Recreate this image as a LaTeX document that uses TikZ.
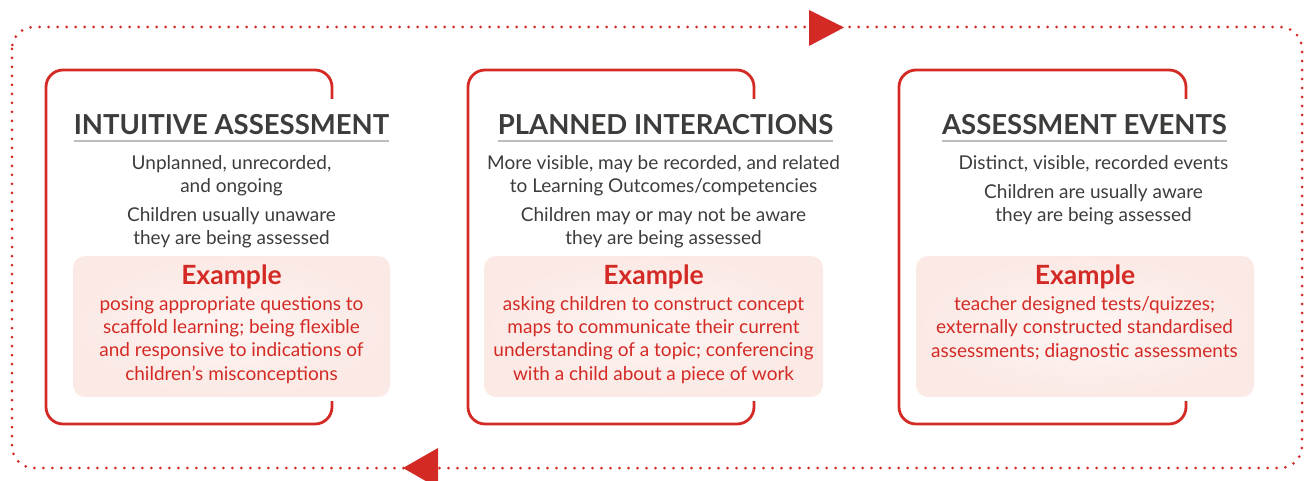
\documentclass[tikz,border=0pt]{standalone}
\usepackage{fontspec}
\setmainfont{Lato}
\definecolor{myred}{HTML}{D42A25}
\definecolor{txtgray}{HTML}{3C3C3A}
\definecolor{ulgray}{HTML}{BDBDBD}
\definecolor{pinkout}{HTML}{FBE9E5}
\definecolor{pinkin}{HTML}{FDF5F3}
\tikzset{
  boxline/.style={draw=myred, line width=2.8pt, rounded corners=17pt},
  loopline/.style={draw=myred, line width=3pt, line cap=round, dash pattern=on 0pt off 9pt, rounded corners=22pt},
  ttl/.style={font=\fontsize{27.5}{32}\selectfont\bfseries, text=txtgray, inner sep=0pt, anchor=base},
  body/.style={font=\fontsize{19}{23}\selectfont, text=txtgray, align=center, inner sep=0pt, anchor=base},
  exhead/.style={font=\fontsize{26.5}{30}\selectfont\bfseries, text=myred, inner sep=0pt, anchor=base},
  extext/.style={font=\fontsize{19}{23.2}\selectfont, text=myred, align=center, inner sep=0pt, anchor=base},
  exbox/.style={rounded corners=12pt, shading=radial, inner color=pinkin, outer color=pinkout, minimum height=141pt, inner sep=0pt},
  uline/.style={draw=ulgray, line width=2.4pt},
  arrowhead/.style={fill=myred}
}
\begin{document}
\begin{tikzpicture}[x=1pt,y=-1pt]
\useasboundingbox (0,0) rectangle (1309,481);
% outer dotted loop
\draw[loopline] (12,27) rectangle (1302,468);
\fill[arrowhead] (809,10) -- (844,27.5) -- (809,46) -- cycle;
\fill[arrowhead] (438,448) -- (403,468) -- (438,488) -- cycle;
% bracket frames
\draw[boxline] (332,99) -- (332,70) -- (46,70) -- (46,424) -- (332,424) -- (332,401);
\draw[boxline] (754,99) -- (754,70) -- (468,70) -- (468,424) -- (754,424) -- (754,401);
\draw[boxline] (1186,99) -- (1186,70) -- (899,70) -- (899,424) -- (1186,424) -- (1186,401);
% example backgrounds
\node[exbox, minimum width=317pt] (e1) at (231.5,326.5) {};
\node[exbox, minimum width=339pt] (e2) at (653.5,326.5) {};
\node[exbox, minimum width=338pt] (e3) at (1085,326.5) {};
% titles
\node[ttl] (t1) at (231.5,135) {INTUITIVE ASSESSMENT};
\node[ttl] (t2) at (665.5,135) {PLANNED INTERACTIONS};
\node[ttl] (t3) at (1084.5,135) {ASSESSMENT EVENTS};
\draw[uline] ([yshift=-6pt]t1.base west) -- ([yshift=-6pt]t1.base east);
\draw[uline] ([yshift=-6pt]t2.base west) -- ([yshift=-6pt]t2.base east);
\draw[uline] ([yshift=-6pt]t3.base west) -- ([yshift=-6pt]t3.base east);
% body texts (anchor at baseline of last line)
\node[body] (b1a) at (231.5,193) {Unplanned, unrecorded,\\and ongoing};
\node[body] (b1b) at (231.5,244) {Children usually unaware\\they are being assessed};
\node[body] (b2a) at (663.5,193) {More visible, may be recorded, and related\\to Learning Outcomes/competencies};
\node[body] (b2b) at (663.5,244) {Children may or may not be aware\\they are being assessed};
\node[body] (b3a) at (1093.5,170) {Distinct, visible, recorded events};
\node[body] (b3b) at (1093.5,222) {Children are usually aware\\they are being assessed};
% examples
\node[exhead] (x1) at (231.5,284) {Example};
\node[exhead] (x2) at (653.5,284) {Example};
\node[exhead] (x3) at (1085,284) {Example};
\node[extext] (xt1) at (231.5,380) {posing appropriate questions to\\scaffold learning; being flexible\\and responsive to indications of\\children’s misconceptions};
\node[extext] (xt2) at (653.5,380) {asking children to construct concept\\maps to communicate their current\\understanding of a topic; conferencing\\with a child about a piece of work};
\node[extext] (xt3) at (1084.5,357) {teacher designed tests/quizzes;\\externally constructed standardised\\assessments; diagnostic assessments};
\end{tikzpicture}
\end{document}
